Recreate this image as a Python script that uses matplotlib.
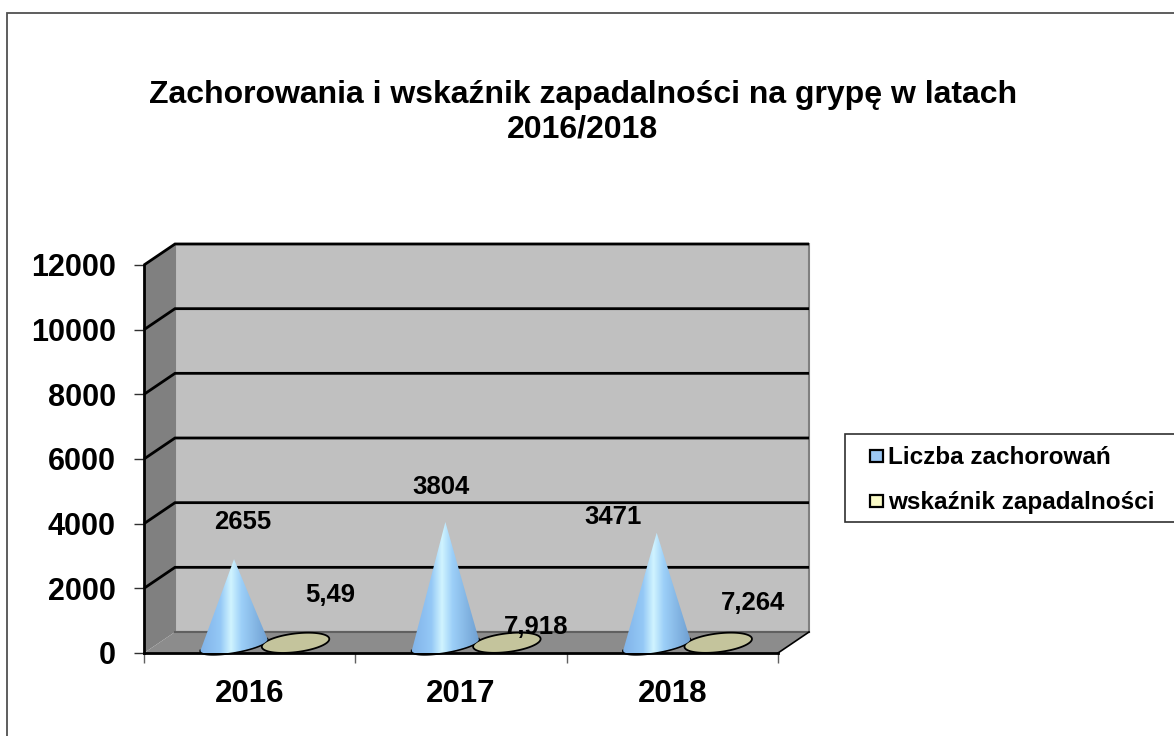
import numpy as np
import matplotlib
matplotlib.use('Agg')
import matplotlib.pyplot as plt
from matplotlib.patches import Polygon, Rectangle
from matplotlib.colors import LinearSegmentedColormap

plt.rcParams['font.family'] = ['Liberation Sans', 'DejaVu Sans']
plt.rcParams['font.weight'] = 'bold'

years = ['2016', '2017', '2018']
cases = [2655, 3804, 3471]
rate = [5.49, 7.918, 7.264]
rate_labels = ['5,49', '7,918', '7,264']
y_ticks = [0, 2000, 4000, 6000, 8000, 10000, 12000]

W, H = 1174, 736
fig = plt.figure(figsize=(W / 100, H / 100), dpi=100)

# front plane of the 3d box: x 144-778, y 653-265 in pixels
ax = fig.add_axes([144 / W, 1 - 653 / H, 634 / W, 388 / H])
ax.set_xlim(0, 3)
ax.set_ylim(0, 12000)
for s in ax.spines.values():
    s.set_visible(False)
ax.patch.set_visible(False)

px = 3 / 634
py = 12000 / 388
DX, DY = 31 * px, 21 * py

fig.add_artist(Rectangle((7 / W, -0.01), 1.1, 1 - 12.5 / H + 0.01, transform=fig.transFigure,
                         fc='white', ec='#505050', lw=1.3, zorder=-5))

# walls and floor
ax.add_patch(Polygon([(DX, DY), (3 + DX, DY), (3 + DX, 12000 + DY), (DX, 12000 + DY)],
                     fc='#c0c0c0', ec='#808080', lw=1.5, clip_on=False, zorder=1))
ax.add_patch(Polygon([(0, 0), (DX, DY), (DX, 12000 + DY), (0, 12000)],
                     fc='#808080', ec='none', clip_on=False, zorder=1))
ax.add_patch(Polygon([(0, 0), (3, 0), (3 + DX, DY), (DX, DY)],
                     fc='#8c8c8c', ec='none', clip_on=False, zorder=1))
for v in y_ticks[1:]:
    ax.plot([0, DX, 3 + DX], [v, v + DY, v + DY], color='black', lw=2, clip_on=False, zorder=2,
            solid_capstyle='butt', solid_joinstyle='miter')
ax.plot([DX, 3 + DX], [DY, DY], color='#606060', lw=1.5, clip_on=False, zorder=2)
ax.plot([0, 0], [0, 12000], color='black', lw=2, clip_on=False, zorder=3)
ax.plot([0, 3], [0, 0], color='black', lw=2, clip_on=False, zorder=3)
ax.plot([3, 3 + DX], [0, DY], color='black', lw=1.2, clip_on=False, zorder=3)

ax.set_yticks(y_ticks)
ax.set_yticklabels([str(v) for v in y_ticks], fontsize=22, fontweight='bold')
ax.set_xticks([0, 1, 2, 3])
ax.set_xticklabels([])
ax.tick_params(axis='y', length=7.2, width=1, color='#303030', pad=13)
ax.tick_params(axis='x', length=7.2, width=1, color='#606060')
for i, y in enumerate(years):
    ax.text(i + 0.5, -40.5 * py, y, ha='center', va='center', fontsize=22.5, fontweight='bold')

cone_cmap = LinearSegmentedColormap.from_list(
    'cone', [(0, '#7fb2e8'), (0.3, '#94c8f6'), (0.45, '#d0f4ff'), (0.6, '#9ccff8'), (1, '#6c9ccf')])
grad = np.linspace(0, 1, 256).reshape(1, -1)

base_y = 8 * py


def tilted(cx, cy, a, b, t, deg):
    # point on a tilted ellipse, sizes in pixels, result in data units
    r = np.deg2rad(deg)
    x = a * np.cos(t) * np.cos(r) - b * np.sin(t) * np.sin(r)
    y = a * np.cos(t) * np.sin(r) + b * np.sin(t) * np.cos(r)
    return cx + x * px, cy + y * py


for i, c in enumerate(cases):
    cx = i + 0.426
    t = np.linspace(np.deg2rad(175), np.deg2rad(365), 60)
    ex, ey = tilted(cx, base_y, 34, 7, t, 10)
    pts = [(cx, base_y + c)] + list(zip(ex, ey))
    ax.plot(ex, ey - 0.5 * py, color='black', lw=1.6, clip_on=False, zorder=5)
    poly = Polygon(pts, closed=True, transform=ax.transData, fc='none', ec='none', clip_on=False)
    ax.add_patch(poly)
    im = ax.imshow(grad, cmap=cone_cmap, extent=(cx - 35 * px, cx + 35 * px, 0, base_y + c),
                   aspect='auto', zorder=6)
    im.set_clip_path(poly)

    ell_cx = i + 0.717
    t = np.linspace(0, 2 * np.pi, 100)
    ex, ey = tilted(ell_cx, 10 * py + rate[i], 34, 9.3, t, 7)
    ax.add_patch(Polygon(list(zip(ex, ey)), fc='#c4c49c', ec='black', lw=1.3, clip_on=False, zorder=5))

ax.set_xlim(0, 3)
ax.set_ylim(0, 12000)

# value labels, placed by hand like in the original
case_label_pos = [(0.468, 4060), (1.403, 5120), (2.22, 4220)]
rate_label_pos = [(0.88, 1800), (1.855, 810), (2.88, 1540)]
for (x, y), c in zip(case_label_pos, cases):
    ax.text(x, y, str(c), ha='center', va='center', fontsize=18.5, fontweight='bold', zorder=8)
for (x, y), l in zip(rate_label_pos, rate_labels):
    ax.text(x, y, l, ha='center', va='center', fontsize=18.5, fontweight='bold', zorder=8)

fig.text(583 / W, 1 - 112.5 / H, 'Zachorowania i wskaźnik zapadalności na grypę w latach\n2016/2018',
         ha='center', va='center', fontsize=23, fontweight='bold', linespacing=1.2)

# legend box, right side is cut off by the figure
fig.add_artist(Rectangle((844.5 / W, 1 - 521.5 / H), 400 / W, 88 / H, transform=fig.transFigure,
                         fc='white', ec='#303030', lw=1.2))
legend_names = ['Liczba zachorowań', 'wskaźnik zapadalności']
legend_colors = ['#9cc8f4', '#fbfbc8']
legend_y = [456, 501]
for name, col, ly in zip(legend_names, legend_colors, legend_y):
    fig.add_artist(Rectangle((870 / W, 1 - (ly + 6) / H), 13 / W, 12 / H, transform=fig.transFigure,
                             fc=col, ec='black', lw=1.6))
    fig.text(888 / W, 1 - (ly + 1) / H, name, ha='left', va='center', fontsize=17.5, fontweight='bold')

fig.savefig('out.png', dpi=100)
